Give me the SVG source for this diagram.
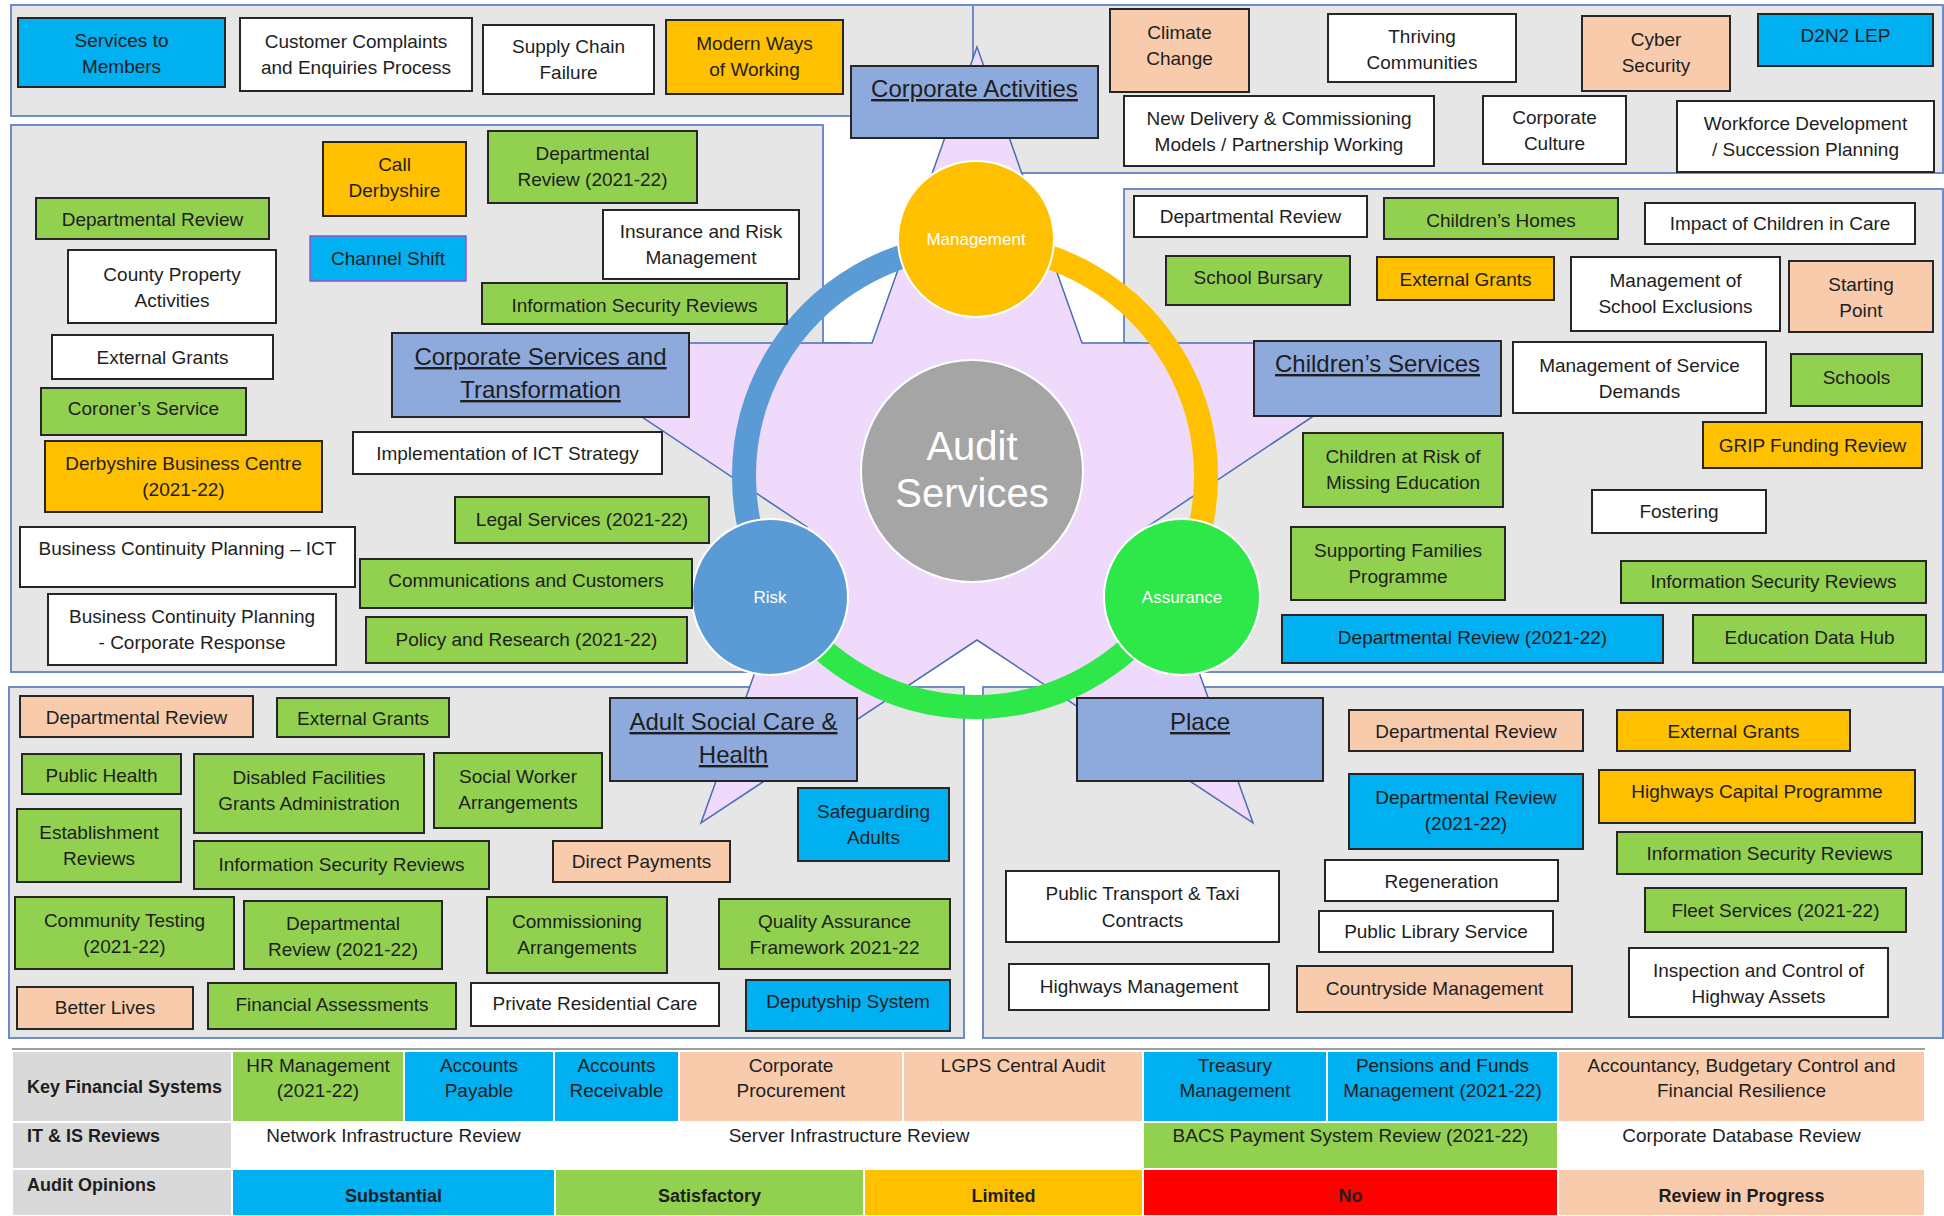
<svg xmlns="http://www.w3.org/2000/svg" width="1944" height="1216" viewBox="0 0 1944 1216">
<style>
text{font-family:"Liberation Sans",Arial,sans-serif}
.pn{fill:#E6E6E6;stroke:#6E8CC8;stroke-width:2}
.bx{stroke:#262626;stroke-width:2}
.g{fill:#92D050}.bl{fill:#00B0F0}.o{fill:#FFC000}.pe{fill:#F8CBAD}.w{fill:#FFFFFF}.h{fill:#8EA9DB}
.t{font-size:19px;fill:#1e1e1e;text-anchor:middle}
.ht{font-size:24px;fill:#1e1e1e;text-anchor:middle;text-decoration:underline}
.ct{font-size:17px;fill:#FFFFFF;text-anchor:middle}
.tc{stroke:#FFFFFF;stroke-width:2}
.tt{font-size:19px;fill:#1e1e1e;text-anchor:middle}
.tl{font-size:18px;font-weight:bold;fill:#1e1e1e}
.tb{font-size:18px;font-weight:bold;fill:#1e1e1e;text-anchor:middle}
</style>
<rect width="1944" height="1216" fill="#FFFFFF"/>
<g id="panels">
<rect class="pn" x="11" y="5" width="962" height="111"/>
<rect class="pn" x="973" y="5" width="970" height="168"/>
<polygon class="pn" points="11,125 823,125 823,343 850,343 850,672 11,672"/>
<polygon class="pn" points="1124,189 1943,189 1943,672 1140,672 1140,343 1124,343"/>
<rect class="pn" x="9" y="687" width="955" height="351"/>
<rect class="pn" x="983" y="687" width="960" height="351"/>
</g>
<g id="star">
<polygon points="977,47 1082,343 1423,343 1147,527 1253,823 977,640 701,823 807,527 531,343 872,343" fill="#EFDAFB" stroke="#4A6DB5" stroke-width="1.5" stroke-linejoin="miter"/>
</g>
<g id="connectors" fill="none" stroke-width="24">
<path d="M775.5,592.5 A231,231 0 0 1 975,245" stroke="#5B9BD5"/>
<path d="M975,245 A231,231 0 0 1 1174.5,592.5" stroke="#FFC000"/>
<path d="M1174.5,592.5 A231,231 0 0 1 775.5,592.5" stroke="#2EE84A"/>
</g>
<g id="n-audit"><circle cx="972" cy="471" r="111" fill="#A5A5A5" stroke="#FFFFFF" stroke-width="2"/><text x="972" y="460" font-size="40" fill="#FFFFFF" text-anchor="middle">Audit</text><text x="972" y="507" font-size="40" fill="#FFFFFF" text-anchor="middle">Services</text></g>
<g id="n-management"><circle cx="976" cy="239" r="78" fill="#FFC000" stroke="#FFFFFF" stroke-width="2"/><text class="ct" x="976" y="245">Management</text></g>
<g id="n-risk"><circle cx="770" cy="597" r="78" fill="#5B9BD5" stroke="#FFFFFF" stroke-width="2"/><text class="ct" x="770" y="603">Risk</text></g>
<g id="n-assurance"><circle cx="1182" cy="597" r="78" fill="#2EE84A" stroke="#FFFFFF" stroke-width="2"/><text class="ct" x="1182" y="603">Assurance</text></g>

<g id="n-svc-members"><rect class="bx bl" x="18" y="18" width="207" height="69"/><text class="t" x="121.5" y="47">Services to</text><text class="t" x="121.5" y="73">Members</text></g>
<g id="n-complaints"><rect class="bx w" x="240" y="18" width="232" height="73"/><text class="t" x="356" y="48">Customer Complaints</text><text class="t" x="356" y="74">and Enquiries Process</text></g>
<g id="n-supply"><rect class="bx w" x="483" y="25" width="171" height="69"/><text class="t" x="568.5" y="53">Supply Chain</text><text class="t" x="568.5" y="79">Failure</text></g>
<g id="n-modern"><rect class="bx o" x="666" y="20" width="177" height="74"/><text class="t" x="754.5" y="50">Modern Ways</text><text class="t" x="754.5" y="76">of Working</text></g>
<g id="n-corp-activities"><rect class="bx h" x="851" y="66" width="247" height="72"/><text class="ht" x="974.5" y="97">Corporate Activities</text></g>

<g id="n-climate"><rect class="bx pe" x="1110" y="9" width="139" height="83"/><text class="t" x="1179.5" y="39">Climate</text><text class="t" x="1179.5" y="65">Change</text></g>
<g id="n-thriving"><rect class="bx w" x="1328" y="14" width="188" height="68"/><text class="t" x="1422" y="43">Thriving</text><text class="t" x="1422" y="69">Communities</text></g>
<g id="n-cyber"><rect class="bx pe" x="1582" y="16" width="148" height="75"/><text class="t" x="1656" y="46">Cyber</text><text class="t" x="1656" y="72">Security</text></g>
<g id="n-d2n2"><rect class="bx bl" x="1758" y="14" width="175" height="52"/><text class="t" x="1845.5" y="42">D2N2 LEP</text></g>
<g id="n-new-delivery"><rect class="bx w" x="1124" y="96" width="310" height="70"/><text class="t" x="1279" y="125">New Delivery &amp; Commissioning</text><text class="t" x="1279" y="151">Models / Partnership Working</text></g>
<g id="n-corp-culture"><rect class="bx w" x="1483" y="96" width="143" height="68"/><text class="t" x="1554.5" y="124">Corporate</text><text class="t" x="1554.5" y="150">Culture</text></g>
<g id="n-workforce"><rect class="bx w" x="1677" y="101" width="257" height="71"/><text class="t" x="1805.5" y="130">Workforce Development</text><text class="t" x="1805.5" y="156">/ Succession Planning</text></g>

<g id="n-call"><rect class="bx o" x="323" y="142" width="143" height="74"/><text class="t" x="394.5" y="171">Call</text><text class="t" x="394.5" y="197">Derbyshire</text></g>
<g id="n-cs-dept-2122"><rect class="bx g" x="488" y="131" width="209" height="72"/><text class="t" x="592.5" y="160">Departmental</text><text class="t" x="592.5" y="186">Review (2021-22)</text></g>
<g id="n-cs-dept"><rect class="bx g" x="36" y="198" width="233" height="41"/><text class="t" x="152.5" y="226">Departmental Review</text></g>
<g id="n-county"><rect class="bx w" x="68" y="250" width="208" height="73"/><text class="t" x="172" y="281">County Property</text><text class="t" x="172" y="307">Activities</text></g>
<g id="n-channel"><rect x="310" y="236" width="156" height="45" fill="#00B0F0" stroke="#9B50C8" stroke-width="1.5"/><text class="t" x="388" y="265">Channel Shift</text></g>
<g id="n-insurance"><rect class="bx w" x="603" y="210" width="196" height="69"/><text class="t" x="701" y="238">Insurance and Risk</text><text class="t" x="701" y="264">Management</text></g>
<g id="n-cs-infosec"><rect class="bx g" x="482" y="283" width="305" height="41"/><text class="t" x="634.5" y="312">Information Security Reviews</text></g>
<g id="n-cs-ext"><rect class="bx w" x="52" y="335" width="221" height="44"/><text class="t" x="162.5" y="364">External Grants</text></g>
<g id="n-coroner"><rect class="bx g" x="41" y="388" width="205" height="47"/><text class="t" x="143.5" y="415">Coroner’s Service</text></g>
<g id="n-corp-services"><rect class="bx h" x="392" y="333" width="297" height="84"/><text class="ht" x="540.5" y="365">Corporate Services and</text><text class="ht" x="540.5" y="398">Transformation</text></g>
<g id="n-dbc"><rect class="bx o" x="45" y="441" width="277" height="71"/><text class="t" x="183.5" y="470">Derbyshire Business Centre</text><text class="t" x="183.5" y="496">(2021-22)</text></g>
<g id="n-ict"><rect class="bx w" x="353" y="432" width="309" height="42"/><text class="t" x="507.5" y="460">Implementation of ICT Strategy</text></g>
<g id="n-bcp-ict"><rect class="bx w" x="20" y="527" width="335" height="60"/><text class="t" x="187.5" y="555">Business Continuity Planning – ICT</text></g>
<g id="n-legal"><rect class="bx g" x="455" y="497" width="254" height="46"/><text class="t" x="582" y="526">Legal Services (2021-22)</text></g>
<g id="n-comms"><rect class="bx g" x="360" y="559" width="332" height="49"/><text class="t" x="526" y="587">Communications and Customers</text></g>
<g id="n-policy"><rect class="bx g" x="366" y="617" width="321" height="46"/><text class="t" x="526.5" y="646">Policy and Research (2021-22)</text></g>
<g id="n-bcp-corp"><rect class="bx w" x="48" y="594" width="288" height="71"/><text class="t" x="192" y="623">Business Continuity Planning</text><text class="t" x="192" y="649">- Corporate Response</text></g>

<g id="n-c-dept"><rect class="bx w" x="1134" y="196" width="233" height="41"/><text class="t" x="1250.5" y="223">Departmental Review</text></g>
<g id="n-c-homes"><rect class="bx g" x="1384" y="198" width="234" height="41"/><text class="t" x="1501" y="227">Children’s Homes</text></g>
<g id="n-impact"><rect class="bx w" x="1645" y="203" width="270" height="41"/><text class="t" x="1780" y="230">Impact of Children in Care</text></g>
<g id="n-bursary"><rect class="bx g" x="1166" y="256" width="184" height="49"/><text class="t" x="1258" y="284">School Bursary</text></g>
<g id="n-c-ext"><rect class="bx o" x="1377" y="257" width="177" height="43"/><text class="t" x="1465.5" y="286">External Grants</text></g>
<g id="n-exclusions"><rect class="bx w" x="1571" y="257" width="209" height="74"/><text class="t" x="1675.5" y="287">Management of</text><text class="t" x="1675.5" y="313">School Exclusions</text></g>
<g id="n-starting"><rect class="bx pe" x="1789" y="261" width="144" height="71"/><text class="t" x="1861" y="291">Starting</text><text class="t" x="1861" y="317">Point</text></g>
<g id="n-childrens"><rect class="bx h" x="1254" y="341" width="247" height="75"/><text class="ht" x="1377.5" y="372">Children’s Services</text></g>
<g id="n-demands"><rect class="bx w" x="1513" y="342" width="253" height="71"/><text class="t" x="1639.5" y="372">Management of Service</text><text class="t" x="1639.5" y="398">Demands</text></g>
<g id="n-schools"><rect class="bx g" x="1791" y="354" width="131" height="52"/><text class="t" x="1856.5" y="384">Schools</text></g>
<g id="n-grip"><rect class="bx o" x="1703" y="422" width="219" height="46"/><text class="t" x="1812.5" y="452">GRIP Funding Review</text></g>
<g id="n-missing"><rect class="bx g" x="1303" y="433" width="200" height="74"/><text class="t" x="1403" y="463">Children at Risk of</text><text class="t" x="1403" y="489">Missing Education</text></g>
<g id="n-fostering"><rect class="bx w" x="1592" y="490" width="174" height="43"/><text class="t" x="1679" y="518">Fostering</text></g>
<g id="n-families"><rect class="bx g" x="1291" y="527" width="214" height="73"/><text class="t" x="1398" y="557">Supporting Families</text><text class="t" x="1398" y="583">Programme</text></g>
<g id="n-c-infosec"><rect class="bx g" x="1621" y="561" width="305" height="42"/><text class="t" x="1773.5" y="588">Information Security Reviews</text></g>
<g id="n-c-dept-2122"><rect class="bx bl" x="1282" y="615" width="381" height="48"/><text class="t" x="1472.5" y="644">Departmental Review (2021-22)</text></g>
<g id="n-edhub"><rect class="bx g" x="1693" y="615" width="233" height="48"/><text class="t" x="1809.5" y="644">Education Data Hub</text></g>

<g id="n-a-dept"><rect class="bx pe" x="20" y="696" width="233" height="41"/><text class="t" x="136.5" y="724">Departmental Review</text></g>
<g id="n-a-ext"><rect class="bx g" x="277" y="698" width="172" height="39"/><text class="t" x="363" y="725">External Grants</text></g>
<g id="n-asc"><rect class="bx h" x="610" y="698" width="247" height="83"/><text class="ht" x="733.5" y="730">Adult Social Care &amp;</text><text class="ht" x="733.5" y="763">Health</text></g>
<g id="n-public-health"><rect class="bx g" x="22" y="754" width="159" height="40"/><text class="t" x="101.5" y="782">Public Health</text></g>
<g id="n-dfg"><rect class="bx g" x="194" y="754" width="230" height="79"/><text class="t" x="309" y="784">Disabled Facilities</text><text class="t" x="309" y="810">Grants Administration</text></g>
<g id="n-social-worker"><rect class="bx g" x="434" y="753" width="168" height="75"/><text class="t" x="518" y="783">Social Worker</text><text class="t" x="518" y="809">Arrangements</text></g>
<g id="n-safeguarding"><rect class="bx bl" x="798" y="788" width="151" height="73"/><text class="t" x="873.5" y="818">Safeguarding</text><text class="t" x="873.5" y="844">Adults</text></g>
<g id="n-establishment"><rect class="bx g" x="17" y="809" width="164" height="73"/><text class="t" x="99" y="839">Establishment</text><text class="t" x="99" y="865">Reviews</text></g>
<g id="n-a-infosec"><rect class="bx g" x="194" y="841" width="295" height="48"/><text class="t" x="341.5" y="871">Information Security Reviews</text></g>
<g id="n-direct"><rect class="bx pe" x="553" y="841" width="177" height="41"/><text class="t" x="641.5" y="868">Direct Payments</text></g>
<g id="n-community"><rect class="bx g" x="15" y="897" width="219" height="72"/><text class="t" x="124.5" y="927">Community Testing</text><text class="t" x="124.5" y="953">(2021-22)</text></g>
<g id="n-a-dept-2122"><rect class="bx g" x="244" y="901" width="198" height="68"/><text class="t" x="343" y="930">Departmental</text><text class="t" x="343" y="956">Review (2021-22)</text></g>
<g id="n-commissioning"><rect class="bx g" x="487" y="897" width="180" height="76"/><text class="t" x="577" y="928">Commissioning</text><text class="t" x="577" y="954">Arrangements</text></g>
<g id="n-qaf"><rect class="bx g" x="719" y="899" width="231" height="70"/><text class="t" x="834.5" y="928">Quality Assurance</text><text class="t" x="834.5" y="954">Framework 2021-22</text></g>
<g id="n-better"><rect class="bx pe" x="17" y="987" width="176" height="42"/><text class="t" x="105" y="1014">Better Lives</text></g>
<g id="n-financial"><rect class="bx g" x="208" y="983" width="248" height="46"/><text class="t" x="332" y="1011">Financial Assessments</text></g>
<g id="n-private"><rect class="bx w" x="471" y="983" width="248" height="43"/><text class="t" x="595" y="1010">Private Residential Care</text></g>
<g id="n-deputyship"><rect class="bx bl" x="746" y="980" width="204" height="51"/><text class="t" x="848" y="1008">Deputyship System</text></g>

<g id="n-place"><rect class="bx h" x="1077" y="698" width="246" height="83"/><text class="ht" x="1200" y="730">Place</text></g>
<g id="n-p-dept"><rect class="bx pe" x="1349" y="710" width="234" height="41"/><text class="t" x="1466" y="738">Departmental Review</text></g>
<g id="n-p-ext"><rect class="bx o" x="1617" y="710" width="233" height="41"/><text class="t" x="1733.5" y="738">External Grants</text></g>
<g id="n-p-dept-2122"><rect class="bx bl" x="1349" y="774" width="234" height="75"/><text class="t" x="1466" y="804">Departmental Review</text><text class="t" x="1466" y="830">(2021-22)</text></g>
<g id="n-hcp"><rect class="bx o" x="1599" y="770" width="316" height="53"/><text class="t" x="1757" y="798">Highways Capital Programme</text></g>
<g id="n-p-infosec"><rect class="bx g" x="1617" y="832" width="305" height="42"/><text class="t" x="1769.5" y="860">Information Security Reviews</text></g>
<g id="n-regen"><rect class="bx w" x="1325" y="860" width="233" height="41"/><text class="t" x="1441.5" y="888">Regeneration</text></g>
<g id="n-transport"><rect class="bx w" x="1006" y="871" width="273" height="71"/><text class="t" x="1142.5" y="900">Public Transport &amp; Taxi</text><text class="t" x="1142.5" y="927">Contracts</text></g>
<g id="n-library"><rect class="bx w" x="1319" y="911" width="234" height="41"/><text class="t" x="1436" y="938">Public Library Service</text></g>
<g id="n-fleet"><rect class="bx g" x="1645" y="888" width="261" height="44"/><text class="t" x="1775.5" y="917">Fleet Services (2021-22)</text></g>
<g id="n-highways-mgmt"><rect class="bx w" x="1009" y="964" width="260" height="46"/><text class="t" x="1139" y="993">Highways Management</text></g>
<g id="n-countryside"><rect class="bx pe" x="1297" y="966" width="275" height="46"/><text class="t" x="1434.5" y="995">Countryside Management</text></g>
<g id="n-inspection"><rect class="bx w" x="1629" y="948" width="259" height="69"/><text class="t" x="1758.5" y="977">Inspection and Control of</text><text class="t" x="1758.5" y="1003">Highway Assets</text></g>

<g id="table">
<line x1="12" y1="1049" x2="1925" y2="1049" stroke="#A0A0A0" stroke-width="2"/>
<rect class="tc" x="12" y="1051" width="220" height="71" fill="#D9D9D9"/>
<rect class="tc" x="12" y="1122" width="220" height="47" fill="#D9D9D9"/>
<rect class="tc" x="12" y="1169" width="220" height="47" fill="#D9D9D9"/>
<text class="tl" x="27" y="1093">Key Financial Systems</text>
<text class="tl" x="27" y="1142">IT &amp; IS Reviews</text>
<text class="tl" x="27" y="1191">Audit Opinions</text>
<rect class="tc g" x="232" y="1051" width="172" height="71"/><text class="tt" x="318" y="1072">HR Management</text><text class="tt" x="318" y="1097">(2021-22)</text>
<rect class="tc bl" x="404" y="1051" width="150" height="71"/><text class="tt" x="479" y="1072">Accounts</text><text class="tt" x="479" y="1097">Payable</text>
<rect class="tc bl" x="554" y="1051" width="125" height="71"/><text class="tt" x="616.5" y="1072">Accounts</text><text class="tt" x="616.5" y="1097">Receivable</text>
<rect class="tc pe" x="679" y="1051" width="224" height="71"/><text class="tt" x="791" y="1072">Corporate</text><text class="tt" x="791" y="1097">Procurement</text>
<rect class="tc pe" x="903" y="1051" width="240" height="71"/><text class="tt" x="1023" y="1072">LGPS Central Audit</text>
<rect class="tc bl" x="1143" y="1051" width="184" height="71"/><text class="tt" x="1235" y="1072">Treasury</text><text class="tt" x="1235" y="1097">Management</text>
<rect class="tc bl" x="1327" y="1051" width="231" height="71"/><text class="tt" x="1442.5" y="1072">Pensions and Funds</text><text class="tt" x="1442.5" y="1097">Management (2021-22)</text>
<rect class="tc pe" x="1558" y="1051" width="367" height="71"/><text class="tt" x="1741.5" y="1072">Accountancy, Budgetary Control and</text><text class="tt" x="1741.5" y="1097">Financial Resilience</text>
<rect class="tc w" x="232" y="1122" width="323" height="47"/><text class="tt" x="393.5" y="1142">Network Infrastructure Review</text>
<rect class="tc w" x="555" y="1122" width="588" height="47"/><text class="tt" x="849" y="1142">Server Infrastructure Review</text>
<rect class="tc g" x="1143" y="1122" width="415" height="47"/><text class="tt" x="1350.5" y="1142">BACS Payment System Review (2021-22)</text>
<rect class="tc w" x="1558" y="1122" width="367" height="47"/><text class="tt" x="1741.5" y="1142">Corporate Database Review</text>
<rect class="tc bl" x="232" y="1169" width="323" height="47"/><text class="tb" x="393.5" y="1202">Substantial</text>
<rect class="tc g" x="555" y="1169" width="309" height="47"/><text class="tb" x="709.5" y="1202">Satisfactory</text>
<rect class="tc o" x="864" y="1169" width="279" height="47"/><text class="tb" x="1003.5" y="1202">Limited</text>
<rect class="tc" x="1143" y="1169" width="415" height="47" fill="#FF0000"/><text class="tb" x="1350.5" y="1202">No</text>
<rect class="tc pe" x="1558" y="1169" width="367" height="47"/><text class="tb" x="1741.5" y="1202">Review in Progress</text>
</g>
</svg>
